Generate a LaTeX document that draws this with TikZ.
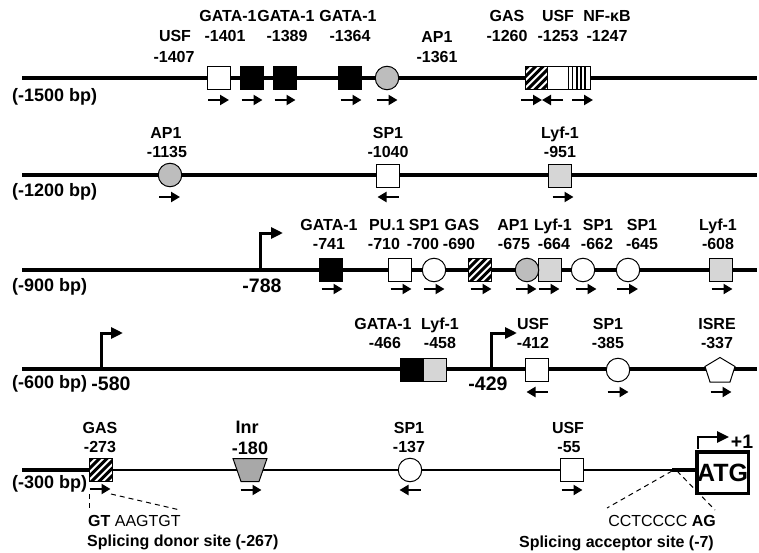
\documentclass[tikz,border=0pt]{standalone}
\usepackage{fontspec}
\setmainfont{Liberation Sans}
\usetikzlibrary{arrows.meta,calc}
\definecolor{cgrey}{gray}{0.74}
\definecolor{lgrey}{gray}{0.84}
\definecolor{igrey}{gray}{0.66}
\newcommand\dirR[2]{\draw[dirarrow] (#1-10.5,#2) -- (#1+10.5,#2);}
\newcommand\dirL[2]{\draw[dirarrow] (#1+10.5,#2) -- (#1-10.5,#2);}
\newcommand\mylab[4]{\node[lbl] (#1) at (#2,#3) {#4};}
\tikzset{
  dna/.style={line width=4.5pt},
  thindna/.style={line width=1.5pt},
  elembox/.style={draw, line width=1pt, minimum width=23pt, minimum height=23pt, inner sep=0pt},
  blackbox/.style={elembox, fill=black},
  whitebox/.style={elembox, fill=white},
  greybox/.style={elembox, fill=lgrey},
  elemcirc/.style={draw, circle, line width=1pt, minimum size=23.5pt, inner sep=0pt},
  hatchbox/.style={elembox, fill=white, path picture={
     \foreach \k in {-4,...,3}{\draw[line width=3pt] ($(path picture bounding box.south west)+(\k*7.5pt,-2pt)$) -- ++(34pt,34pt);}}},
  stripebox/.style={elembox, fill=white, path picture={
     \foreach \k in {-6.5,-2.3,1.9,6.1}{\draw[line width=1.6pt] ($(path picture bounding box.center)+(\k pt,-15pt)$) -- ++(0pt,30pt);}}},
  lbl/.style={font=\bfseries\fontsize{16}{16}\selectfont, inner sep=0pt, text height=11.5pt, text depth=0pt},
  biglbl/.style={font=\bfseries\fontsize{19.5}{19.5}\selectfont, inner sep=0pt, text height=14pt, text depth=0pt},
  bplbl/.style={font=\bfseries\fontsize{18}{18}\selectfont, inner sep=0pt, text height=12.9pt, text depth=0pt, anchor=west},
  seqlbl/.style={font=\fontsize{16}{16}\selectfont, inner sep=0pt, text height=11.5pt, text depth=0pt},
  dirarrow/.style={line width=2.3pt, -{Triangle[length=9pt,width=10pt]}},
  promarrow/.style={line width=3pt, -{Triangle[length=12pt,width=11pt]}},
  splice/.style={line width=1pt, dash pattern=on 5pt off 4pt},
}
\begin{document}
\begin{tikzpicture}[x=1pt,y=-1pt]
\fill[white] (0,0) rectangle (759,553);
\useasboundingbox (0,0) rectangle (759,553);

% ---------------- Row 1 ----------------
\coordinate (r1s) at (22,78); \coordinate (r1e) at (757,78);
\draw[dna] (r1s) -- (r1e);
\node[whitebox] (usfA) at (218.5,78.5) {};
\node[blackbox] (gataA) at (251.5,78.5) {};
\node[blackbox] (gataB) at (284.5,78.5) {};
\node[blackbox] (gataC) at (350,78.5) {};
\node[elemcirc, fill=cgrey] (apA) at (387,78) {};
\node[hatchbox, minimum width=22pt] (gasA) at (536,78.5) {};
\node[whitebox, minimum width=21pt] (usfB) at (557.5,78.5) {};
\node[stripebox, minimum width=22pt] (nfkb) at (579,78.5) {};
\node[bplbl] (bp1) at (12,95) {(-1500 bp)};
\mylab{t1a}{175}{36}{USF}\mylab{n1a}{174}{57}{-1407}
\mylab{t1b}{228}{16}{GATA-1}\mylab{n1b}{225}{36}{-1401}
\mylab{t1c}{286}{16}{GATA-1}\mylab{n1c}{287}{36}{-1389}
\mylab{t1d}{348}{16}{GATA-1}\mylab{n1d}{350}{36}{-1364}
\mylab{t1e}{437}{37}{AP1}\mylab{n1e}{437}{57}{-1361}
\mylab{t1f}{507}{16}{GAS}\mylab{n1f}{507}{36}{-1260}
\mylab{t1g}{558}{16}{USF}\mylab{n1g}{558}{36}{-1253}
\mylab{t1h}{607}{16}{NF-κB}\mylab{n1h}{607}{36}{-1247}
\dirR{218.5}{100}\dirR{252}{100}\dirR{285}{100}\dirR{351}{100}\dirR{387}{100}
\dirR{531.5}{100}\dirL{552.5}{100}\dirR{582.5}{100}

% ---------------- Row 2 ----------------
\coordinate (r2s) at (22,175); \coordinate (r2e) at (757,175);
\draw[dna] (r2s) -- (r2e);
\node[elemcirc, fill=cgrey] (apB) at (170,175) {};
\node[whitebox] (spB) at (388,176) {};
\node[greybox] (lyfB) at (560,176) {};
\node[bplbl] (bp2) at (12,190) {(-1200 bp)};
\mylab{t2a}{166}{133}{AP1}\mylab{n2a}{167}{152}{-1135}
\mylab{t2b}{388}{133}{SP1}\mylab{n2b}{388}{152}{-1040}
\mylab{t2c}{560}{133}{Lyf-1}\mylab{n2c}{560}{152}{-951}
\dirR{169.5}{197}\dirL{388}{197}\dirR{563}{197}

% ---------------- Row 3 ----------------
\coordinate (r3s) at (22,270); \coordinate (r3e) at (757,270);
\draw[dna] (r3s) -- (r3e);
\coordinate (p788a) at (260,270); \coordinate (p788b) at (283,233);
\draw[promarrow] (p788a) |- (p788b);
\node[biglbl] (b788) at (262,285) {-788};
\node[blackbox] (gataD) at (331,270) {};
\node[whitebox] (puC) at (400,270) {};
\node[elemcirc, fill=white] (spC) at (434,270) {};
\node[hatchbox] (gasC) at (480,270) {};
\node[greybox] (lyfC) at (550,270) {};
\node[elemcirc, fill=cgrey] (apC) at (527,270) {};
\node[elemcirc, fill=white] (spD) at (583,270) {};
\node[elemcirc, fill=white] (spE) at (628,270) {};
\node[greybox] (lyfD) at (721,270) {};
\node[bplbl] (bp3) at (12,285) {(-900 bp)};
\mylab{t3a}{329}{225}{GATA-1}\mylab{n3a}{329}{244}{-741}
\mylab{t3b}{387}{225}{PU.1}\mylab{n3b}{384}{244}{-710}
\mylab{t3c}{424}{225}{SP1}\mylab{n3c}{423}{244}{-700}
\mylab{t3d}{462}{225}{GAS}\mylab{n3d}{459}{244}{-690}
\mylab{t3e}{513}{225}{AP1}\mylab{n3e}{514}{244}{-675}
\mylab{t3f}{553}{225}{Lyf-1}\mylab{n3f}{554}{244}{-664}
\mylab{t3g}{598}{225}{SP1}\mylab{n3g}{597}{244}{-662}
\mylab{t3h}{642}{225}{SP1}\mylab{n3h}{642}{244}{-645}
\mylab{t3i}{718}{225}{Lyf-1}\mylab{n3i}{718}{244}{-608}
\dirR{332}{289}\dirR{401}{289}\dirR{434}{289}\dirR{481}{289}\dirR{526}{289}
\dirR{549}{289}\dirR{586}{289}\dirR{627.5}{289}\dirR{722}{289}

% ---------------- Row 4 ----------------
\coordinate (r4s) at (22,369); \coordinate (r4e) at (757,369);
\draw[dna] (r4s) -- (r4e);
\coordinate (p580a) at (101,369); \coordinate (p580b) at (123,333);
\draw[promarrow] (p580a) |- (p580b);
\node[biglbl] (b580) at (111,383) {-580};
\coordinate (p429a) at (491,369); \coordinate (p429b) at (517,333);
\draw[promarrow] (p429a) |- (p429b);
\node[biglbl] (b429) at (488,383) {-429};
\node[blackbox] (gataE) at (411.5,370) {};
\node[greybox] (lyfE) at (435,370) {};
\node[whitebox] (usfE) at (537,370) {};
\node[elemcirc, fill=white] (spF) at (618,370) {};
\coordinate (isre) at (720,370);
\draw[line width=1pt, fill=white] ($(isre)+(0,-12.5)$) -- ($(isre)+(15,-3.5)$) -- ($(isre)+(10,12)$) -- ($(isre)+(-10,12)$) -- ($(isre)+(-15,-3.5)$) -- cycle;
\node[bplbl] (bp4) at (12,382) {(-600 bp)};
\mylab{t4a}{383}{324}{GATA-1}\mylab{n4a}{385}{343}{-466}
\mylab{t4b}{440}{324}{Lyf-1}\mylab{n4b}{440}{343}{-458}
\mylab{t4c}{533}{324}{USF}\mylab{n4c}{533}{343}{-412}
\mylab{t4d}{608}{324}{SP1}\mylab{n4d}{608}{343}{-385}
\mylab{t4e}{717}{324}{ISRE}\mylab{n4e}{717}{343}{-337}
\dirL{537}{392}\dirR{618}{392}\dirR{721}{392}

% ---------------- Row 5 ----------------
\coordinate (r5s) at (22,470); \coordinate (r5m) at (90,470);
\coordinate (r5n) at (672,470); \coordinate (r5e) at (696,470);
\draw[dna] (r5s) -- (r5m);
\draw[thindna] (r5m) -- (r5n);
\draw[dna] (r5n) -- (r5e);
\node[hatchbox] (gasG) at (101,470) {};
\coordinate (inr) at (250,470);
\draw[line width=1pt, fill=igrey] ($(inr)+(-17,-11.5)$) -- ($(inr)+(17,-11.5)$) -- ($(inr)+(9,11.5)$) -- ($(inr)+(-9,11.5)$) -- cycle;
\node[elemcirc, fill=white] (spG) at (410,470) {};
\node[whitebox] (usfG) at (572,470) {};
\node[draw, line width=3.5pt, fill=white, minimum width=51.5pt, minimum height=41.5pt, inner sep=0pt,
      font=\bfseries\fontsize{25}{25}\selectfont] (atg) at (722.5,472.5) {ATG};
\coordinate (p1a) at (698,449); \coordinate (p1b) at (729,437);
\draw[promarrow, line width=2.6pt] (p1a) |- (p1b);
\node[biglbl] (plus1) at (742,441) {+1};
\node[bplbl] (bp5) at (12,482) {(-300 bp)};
\mylab{t5a}{100}{428}{GAS}\mylab{n5a}{100}{447}{-273}
\node[biglbl, font=\bfseries\fontsize{18}{18}\selectfont] (t5b) at (247,426) {Inr};
\node[biglbl, font=\bfseries\fontsize{18}{18}\selectfont] (n5b) at (250,447) {-180};
\mylab{t5c}{409}{428}{SP1}\mylab{n5c}{409}{447}{-137}
\mylab{t5d}{568}{428}{USF}\mylab{n5d}{569}{447}{-55}
\dirR{100}{489}\dirR{251}{490}\dirL{410}{490}\dirR{572}{490}
% splice sites
\coordinate (dl1) at (89,494); \coordinate (dl2) at (89,510);
\coordinate (dr1) at (111,494); \coordinate (dr2) at (180,510);
\draw[splice] (dl1) -- (dl2);
\draw[splice] (dr1) -- (dr2);
\node[seqlbl, anchor=west] (seqd) at (88,521) {\textbf{GT} AAGTGT};
\node[lbl, anchor=west] (donor) at (87,541) {Splicing donor site (-267)};
\coordinate (al1) at (672,471); \coordinate (al2) at (607,508);
\coordinate (ar1) at (677,471); \coordinate (ar2) at (715,510);
\draw[splice] (al1) -- (al2);
\draw[splice] (ar1) -- (ar2);
\node[seqlbl, anchor=east] (seqa) at (716,521) {CCTCCCC \textbf{AG}};
\node[lbl, anchor=east] (acceptor) at (714,542) {Splicing acceptor site (-7)};
\end{tikzpicture}
\end{document}
